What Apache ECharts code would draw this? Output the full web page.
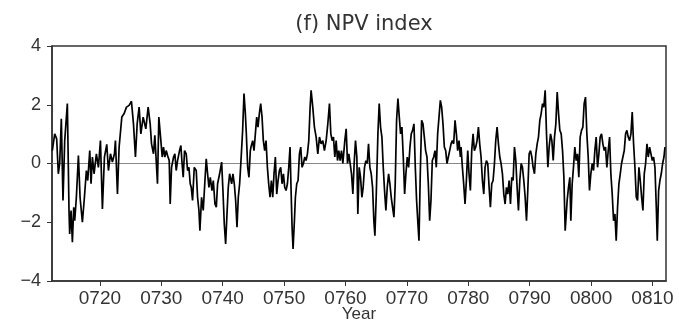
<!DOCTYPE html>
<html>
<head>
<meta charset="utf-8">
<script src="https://cdn.jsdelivr.net/npm/echarts@6/dist/echarts.min.js"></script>
<style>
html,body{margin:0;padding:0;background:#fff;}
#chart{width:679px;height:324px;}
</style>
</head>
<body>
<div id="chart"></div>
<script>
// Title and axis text
const chartTitle = "(f) NPV index";
const xAxisName = "Year";
const xTickYears = [720, 730, 740, 750, 760, 770, 780, 790, 800, 810];
const yTicks = [-4, -2, 0, 2, 4];

// Time (year) of each read point
const years = [
  712.25,712.64,712.96,713.23,713.45,713.72,713.99,714.27,714.70,714.97,
  715.08,715.30,715.52,715.74,715.90,716.17,716.50,716.77,717.15,717.48,
  717.80,718.02,718.35,718.56,718.78,719.05,719.43,719.76,720.09,720.41,
  720.74,721.12,721.39,721.72,722.04,722.37,722.53,722.86,723.13,723.35,
  723.57,723.95,724.33,724.76,725.14,725.47,725.79,726.07,726.39,726.67,
  727.05,
  727.48,727.86,728.19,728.41,728.73,728.95,729.17,729.38,729.60,729.93,
  730.15,730.36,730.58,730.80,731.02,731.29,731.45,731.67,732.00,732.21,
  732.43,732.65,732.97,733.19,733.35,733.57,733.79,734.06,734.28,734.50,
  734.71,734.88,735.09,735.37,735.69,735.91,736.13,736.29,736.56,736.83,
  737.11,737.32,737.54,737.76,737.98,738.25,738.47,738.74,738.96,739.17,
  739.50,739.83,740.04,740.26,740.48,740.70,740.91,741.13,741.46,741.67,
  741.89,742.11,742.33,742.54,742.76,742.98,743.25,743.47,743.69,743.85,
  744.07,744.28,744.50,
  744.61,744.88,745.10,745.32,745.54,745.75,745.97,746.19,746.41,746.62,
  746.84,747.06,747.28,747.49,747.71,747.93,748.15,748.36,748.58,748.80,
  749.02,749.23,749.45,749.67,749.89,750.10,750.32,750.54,750.76,750.97,
  751.14,751.30,751.46,751.68,751.84,752.06,752.28,752.50,752.71,752.93,
  753.15,753.37,753.58,753.80,754.02,754.24,754.40,754.67,754.94,755.22,
  755.49,755.76,756.03,756.30,756.57,756.85,757.12,757.39,757.61,757.83,
  758.04,758.26,758.48,758.70,758.91,759.13,759.35,759.57,759.89,760.11,
  760.33,760.54,760.76,760.98,761.20,761.41,761.63,761.85,
  762.01,762.23,762.45,762.67,762.88,763.10,763.32,763.54,763.75,763.97,
  764.19,764.41,764.62,764.79,765.00,765.28,765.49,765.71,765.93,766.15,
  766.36,766.58,766.80,767.02,767.23,767.45,767.67,767.89,768.10,768.32,
  768.54,768.76,768.97,769.19,769.41,769.63,769.84,770.06,770.28,770.50,
  770.71,770.93,771.15,771.37,771.58,771.80,771.97,772.18,772.40,772.62,
  772.84,773.05,773.27,773.49,773.71,773.92,774.14,774.36,774.58,774.79,
  775.01,775.23,775.45,775.66,775.88,776.10,776.32,776.53,776.75,776.97,
  777.19,777.40,777.62,777.84,778.06,778.27,778.49,778.71,
  778.82,779.04,779.25,779.47,779.69,779.91,780.12,780.34,780.56,780.78,
  780.99,781.21,781.43,781.65,781.86,782.08,782.30,782.52,782.73,782.95,
  783.17,783.39,783.60,783.82,784.04,784.26,784.47,784.69,784.91,785.13,
  785.34,785.56,785.78,786.00,786.21,786.43,786.65,786.87,787.08,787.30,
  787.52,787.74,787.95,788.17,788.39,788.61,788.82,789.04,789.26,789.48,
  789.69,789.91,790.13,790.35,790.56,790.78,791.00,791.22,791.43,791.65,
  791.87,792.09,792.30,792.52,792.74,792.96,793.17,793.39,793.61,793.83,
  794.04,794.26,794.48,794.70,794.91,795.13,795.35,795.57,795.78,
  796.10,796.32,796.54,796.70,796.92,797.13,797.35,797.57,797.79,798.00,
  798.22,798.44,798.66,798.87,799.09,799.31,799.53,799.74,799.96,800.18,
  800.40,800.61,800.83,801.05,801.27,801.48,801.70,801.92,802.14,802.35,
  802.57,802.79,803.01,803.22,803.44,803.66,803.88,804.09,804.31,804.53,
  804.75,804.96,805.18,805.40,805.62,805.83,806.05,806.27,806.49,806.70,
  806.92,807.14,807.36,807.57,807.79,808.01,808.23,808.44,808.66,808.88,
  809.10,809.31,809.53,809.75,809.97,810.18,810.40,810.62,810.78,811.00,
  811.21,811.43,811.65,811.87,812.03
];

// NPV index value at each read point
const npv = [
  0.44,1.01,0.84,-0.35,0,1.52,-1.26,0.78,2.04,-1.60,
  -2.40,-1.60,-2.68,-1.49,-1.95,-1.15,0.27,-1.15,-2.00,-1.15,
  -0.24,-0.58,0.44,-0.69,0.22,-0.35,0.33,-0.13,0.78,-1.55,
  0.22,0.65,-0.24,0.33,0.05,0.33,0.78,-1.04,0.56,0.50,
  1.58,1.70,1.92,1.98,2.12,1.35,0.22,1.35,1.92,1.01,
  1.58,
  1.18,1.92,1.35,0.67,0.33,0.96,0.10,-0.69,1.58,0.78,
  0.22,0.56,0.22,0.44,0.27,0.10,-1.38,-0.13,0.22,0.33,
  -0.24,0.10,0.44,0.61,0.10,-0.47,0.44,0.33,-0.24,-0.13,
  -0.69,-0.81,-1.26,-0.13,-0.24,-1.15,-1.60,-2.29,-1.15,-1.60,
  -0.58,0.16,-0.35,-0.81,-0.47,-0.92,-0.58,-1.38,-1.49,-0.69,
  -0.35,0.05,-0.92,-2.06,-2.74,-1.72,-0.81,-0.35,-0.69,-0.35,
  -0.69,-1.26,-2.17,-1.15,-0.69,0.10,1.13,2.38,1.70,1.01,
  -0.13,-0.47,0.44,
  0.56,0.78,0.44,1.01,1.58,1.24,1.70,2.04,1.58,0.78,
  0.44,0.78,-0.13,-0.69,-1.15,-0.58,-1.15,-0.35,0.22,-1.04,
  -0.58,-0.24,-0.13,-0.69,-0.35,-0.81,-0.92,-0.69,-0.13,0.56,
  -0.92,-2.17,-2.91,-1.95,-1.15,-0.69,-0.58,0.33,0.56,-0.13,
  0,0.22,0.10,0.33,0.78,1.92,2.49,1.92,1.24,0.90,
  0.33,0.90,0.67,0.78,0.44,0.78,1.35,2.04,1.01,0.78,
  0.90,0.22,0.78,0.10,0.44,0.10,0.44,0,0.78,1.18,
  0,0.33,0,-0.35,-1.04,0,0.78,0.22,
  -1.72,-0.13,-0.47,-1.15,-0.81,-0.13,0.10,0,0.67,-0.13,
  -0.35,-0.81,-1.95,-2.46,-1.15,1.01,2.04,1.24,0.90,-0.13,
  -0.92,-1.60,-0.81,-0.35,-0.69,-1.15,-1.49,-1.83,-0.69,1.47,
  2.21,1.58,1.01,1.24,0.22,-1.04,-0.35,0.22,-0.13,0.56,
  1.01,1.13,1.35,-0.13,-1.26,-2.06,-2.63,-0.35,1.47,1.35,
  0.90,0.44,0.22,-0.69,-1.95,-1.26,0.10,0.22,0.44,-0.13,
  1.01,1.58,2.15,1.92,1.35,0.56,0.44,0,0.22,0.44,
  0.67,0.78,0.67,1.47,1.01,0.44,0.78,0.22,
  0.56,-0.13,-0.69,-1.38,-0.58,0.44,-0.35,-0.92,0.44,1.01,
  0.44,0.56,0.78,1.24,0.67,0.22,-0.58,-1.04,-0.13,0.10,
  0,-0.81,-1.49,-0.69,-0.58,0,0.78,1.24,0.67,0.22,
  0,-0.35,-1.04,-1.38,-0.81,-1.04,-0.58,-1.38,-0.47,-0.58,
  0.56,0.10,-0.81,-1.60,-0.58,0,-0.13,-0.58,-1.15,-1.95,
  -0.92,0.33,0.44,0.22,-0.13,-0.35,0.33,0.67,0.90,1.47,
  1.70,2.04,1.92,2.49,1.01,-0.13,0.56,1.01,0.78,0.10,
  0.90,1.35,2.43,1.70,1.13,1.01,0.44,-0.47,-2.29,
  -1.26,-0.81,-0.47,-1.95,-0.69,-0.13,0.56,0.10,0.33,-0.47,
  0.90,1.13,1.24,2.04,2.26,1.01,0.22,-0.92,-0.35,0,
  -0.24,0.44,0.90,-0.13,0.33,0.90,1.01,0.67,0.44,0.56,
  -0.13,0.44,0.90,-0.35,-1.04,-1.95,-1.72,-2.63,-1.49,-0.69,
  -0.35,0,0.22,0.44,1.01,1.13,0.90,0.78,1.01,1.75,
  0.67,-0.13,-1.15,-1.26,-0.13,-0.58,-1.15,-1.60,-0.35,0,
  0.67,0.22,0.56,0.33,0.10,0.22,-0.13,-1.49,-2.63,-0.92,
  -0.58,-0.35,0,0.22,0.56
];

const chart = echarts.init(document.getElementById('chart'), null, {renderer: 'canvas'});
const seriesData = years.map((y, i) => [y, npv[i]]);
const fmtYear = v => String(Math.round(v)).padStart(4, '0');
const fmtY = v => (v < 0 ? '\u2212' + Math.abs(v) : String(v));

chart.setOption({
  animation: false,
  backgroundColor: '#ffffff',
  title: {
    text: chartTitle,
    left: 359, top: 9, textAlign: 'center',
    textStyle: {fontFamily: 'DejaVu Sans', fontSize: 21, fontWeight: 'normal', color: '#333'}
  },
  grid: {
    left: 52, right: 13, top: 46, bottom: 43,
    outerBoundsMode: 'none', containLabel: false,
    show: true, borderColor: '#333', borderWidth: 1.5, backgroundColor: 'transparent'
  },
  xAxis: {
    type: 'value', min: 712.2, max: 812.2,
    name: xAxisName, nameLocation: 'middle', nameGap: 25, nameMoveOverlap: false,
    nameTextStyle: {fontFamily: 'Liberation Sans', fontSize: 17, color: '#333', verticalAlign: 'top', lineHeight: 17},
    axisLine: {show: true, onZero: false, lineStyle: {color: '#333', width: 1.5}},
    axisTick: {show: true, inside: false, length: 5, customValues: xTickYears, lineStyle: {color: '#333', width: 1}},
    axisLabel: {customValues: xTickYears, formatter: fmtYear, margin: 8,
      fontFamily: 'Liberation Sans', fontSize: 19, color: '#333'},
    splitLine: {show: false}
  },
  yAxis: {
    type: 'value', min: -4, max: 4, interval: 2,
    axisLine: {show: true, onZero: false, lineStyle: {color: '#333', width: 1.5}},
    axisTick: {show: true, inside: false, length: 5, lineStyle: {color: '#333', width: 1}},
    axisLabel: {formatter: fmtY, margin: 11,
      fontFamily: 'Liberation Sans', fontSize: 18, color: '#333'},
    splitLine: {show: false}
  },
  series: [{
    type: 'line',
    data: seriesData,
    symbol: 'none',
    lineStyle: {color: '#000', width: 1.7},
    z: 3,
    markLine: {
      silent: true, symbol: 'none', label: {show: false},
      lineStyle: {color: '#888', width: 1, type: 'solid'},
      data: [{yAxis: 0}],
      z: 1
    }
  }]
});
</script>
</body>
</html>
